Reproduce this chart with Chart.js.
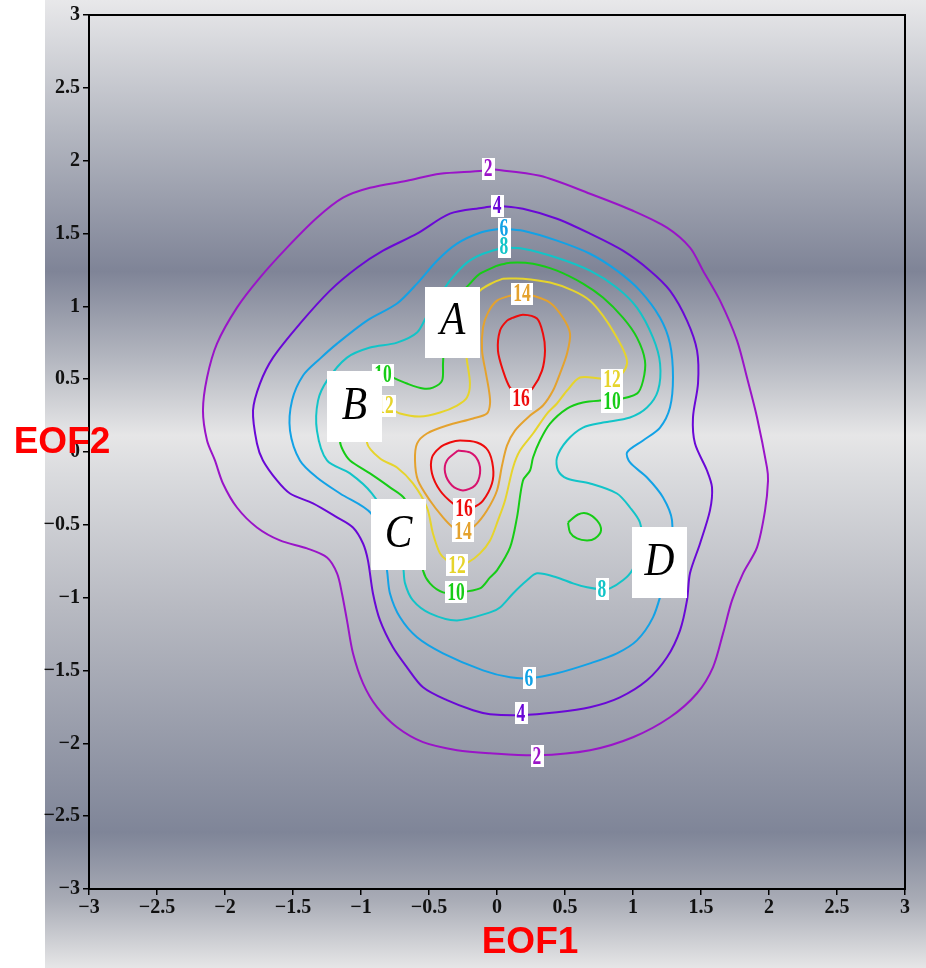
<!DOCTYPE html>
<html>
<head>
<meta charset="utf-8">
<script src="https://cdn.jsdelivr.net/npm/chart.js@4.4.1/dist/chart.umd.min.js"></script>
<style>
  html, body { margin: 0; padding: 0; background: #fff; }
  canvas { display: block; }
</style>
</head>
<body>
<canvas id="c" width="926" height="968"></canvas>
<script>
// Density contours in the (EOF1, EOF2) plane. Each list is one closed contour, [EOF1, EOF2] pairs.
const contourLevels = [2, 4, 6, 8, 10, 12, 14, 16, 18];

const level2 = [[-0.066,1.944],[0.316,1.896],[0.684,1.773],[1.0,1.656],[1.25,1.540],[1.419,1.403],[1.515,1.245],[1.640,1.039],[1.765,0.765],[1.838,0.511],[1.912,0.237],[1.985,-0.106],[1.993,-0.195],[1.971,-0.401],[1.912,-0.655],[1.809,-0.833],[1.728,-1.019],[1.662,-1.245],[1.588,-1.478],[1.471,-1.656],[1.272,-1.821],[1.0,-1.958],[0.684,-2.047],[0.294,-2.082],[-0.051,-2.068],[-0.294,-2.047],[-0.544,-1.992],[-0.735,-1.890],[-0.882,-1.752],[-0.985,-1.588],[-1.059,-1.382],[-1.103,-1.156],[-1.140,-0.971],[-1.176,-0.833],[-1.250,-0.724],[-1.397,-0.662],[-1.596,-0.607],[-1.765,-0.518],[-1.912,-0.381],[-2.015,-0.216],[-2.074,-0.058],[-2.132,0.079],[-2.162,0.285],[-2.132,0.511],[-2.059,0.744],[-1.912,0.991],[-1.743,1.197],[-1.544,1.403],[-1.324,1.608],[-1.132,1.746],[-0.934,1.814],[-0.662,1.862],[-0.419,1.910],[-0.103,1.931]];

const level4 = [[0,1.691],[0.191,1.670],[0.441,1.601],[0.684,1.499],[0.926,1.382],[1.125,1.245],[1.272,1.108],[1.397,0.902],[1.471,0.696],[1.478,0.470],[1.441,0.237],[1.456,0.058],[1.544,-0.127],[1.581,-0.243],[1.566,-0.401],[1.493,-0.628],[1.419,-0.833],[1.397,-1.019],[1.346,-1.224],[1.25,-1.409],[1.103,-1.567],[0.904,-1.684],[0.684,-1.752],[0.441,-1.787],[0.169,-1.807],[-0.051,-1.800],[-0.176,-1.773],[-0.368,-1.704],[-0.544,-1.615],[-0.662,-1.478],[-0.765,-1.341],[-0.860,-1.156],[-0.912,-0.971],[-0.949,-0.744],[-0.985,-0.628],[-1.059,-0.518],[-1.176,-0.449],[-1.353,-0.353],[-1.522,-0.285],[-1.618,-0.195],[-1.721,-0.058],[-1.765,0.058],[-1.794,0.285],[-1.743,0.470],[-1.647,0.648],[-1.449,0.881],[-1.228,1.108],[-1.029,1.265],[-0.838,1.382],[-0.588,1.499],[-0.346,1.636],[-0.103,1.677]];

const level6 = [[0.022,1.533],[0.191,1.519],[0.441,1.451],[0.684,1.361],[0.882,1.245],[1.051,1.108],[1.199,0.922],[1.272,0.744],[1.294,0.511],[1.272,0.305],[1.199,0.168],[1.074,0.079],[0.956,-0.003],[0.978,-0.072],[1.103,-0.175],[1.221,-0.312],[1.287,-0.470],[1.272,-0.744],[1.213,-0.950],[1.147,-1.135],[1.029,-1.293],[0.882,-1.382],[0.684,-1.451],[0.441,-1.519],[0.243,-1.553],[0.096,-1.547],[-0.103,-1.499],[-0.397,-1.382],[-0.588,-1.272],[-0.713,-1.135],[-0.787,-0.971],[-0.809,-0.813],[-0.846,-0.641],[-0.926,-0.422],[-1.154,-0.285],[-1.324,-0.175],[-1.449,-0.058],[-1.522,0.147],[-1.507,0.353],[-1.426,0.525],[-1.301,0.641],[-1.176,0.744],[-0.956,0.902],[-0.735,1.019],[-0.588,1.156],[-0.441,1.313],[-0.294,1.430],[-0.125,1.505]];

const level8 = [[0.044,1.403],[0.191,1.396],[0.441,1.334],[0.684,1.245],[0.882,1.128],[1.029,0.991],[1.147,0.785],[1.199,0.607],[1.184,0.422],[1.103,0.305],[0.978,0.237],[0.779,0.202],[0.632,0.168],[0.515,0.079],[0.441,-0.038],[0.449,-0.127],[0.515,-0.182],[0.684,-0.216],[0.882,-0.285],[0.978,-0.381],[1.051,-0.484],[1.066,-0.641],[0.993,-0.813],[0.926,-0.881],[0.831,-0.936],[0.772,-0.943],[0.662,-0.929],[0.559,-0.902],[0.441,-0.861],[0.294,-0.833],[0.221,-0.881],[0.118,-0.971],[0.022,-1.067],[-0.051,-1.101],[-0.294,-1.156],[-0.493,-1.108],[-0.618,-1.019],[-0.676,-0.902],[-0.691,-0.778],[-0.750,-0.538],[-0.919,-0.285],[-1.081,-0.147],[-1.25,-0.058],[-1.324,0.147],[-1.316,0.353],[-1.25,0.490],[-1.103,0.648],[-0.934,0.717],[-0.735,0.751],[-0.588,0.820],[-0.515,0.936],[-0.419,1.073],[-0.346,1.176],[-0.221,1.300],[-0.103,1.361]];

const level10 = [[0,1.279],[0.096,1.300],[0.265,1.293],[0.441,1.245],[0.632,1.156],[0.779,1.060],[0.926,0.922],[1.029,0.785],[1.088,0.628],[1.074,0.490],[1.029,0.401],[0.846,0.353],[0.757,0.353],[0.632,0.340],[0.515,0.298],[0.390,0.195],[0.316,0.079],[0.265,-0.038],[0.243,-0.127],[0.191,-0.195],[0.147,-0.449],[0.096,-0.655],[0,-0.813],[-0.051,-0.861],[-0.125,-0.936],[-0.294,-0.964],[-0.397,-0.964],[-0.493,-0.902],[-0.544,-0.813],[-0.581,-0.607],[-0.676,-0.326],[-0.787,-0.243],[-0.934,-0.147],[-1.081,-0.058],[-1.132,0.010],[-1.154,0.079],[-1.118,0.216],[-1.022,0.374],[-0.919,0.490],[-0.809,0.532],[-0.765,0.511],[-0.662,0.470],[-0.544,0.436],[-0.471,0.442],[-0.404,0.490],[-0.397,0.607],[-0.382,0.833],[-0.309,1.039],[-0.199,1.156],[-0.125,1.224]];

const level10Small = [[0.522,-0.484],[0.596,-0.429],[0.662,-0.422],[0.735,-0.470],[0.765,-0.538],[0.721,-0.593],[0.662,-0.607],[0.588,-0.593],[0.537,-0.552]];

const level12 = [[0.044,1.190],[0.191,1.190],[0.390,1.163],[0.559,1.108],[0.684,1.039],[0.779,0.936],[0.882,0.785],[0.941,0.676],[0.956,0.607],[0.919,0.538],[0.846,0.497],[0.757,0.504],[0.610,0.511],[0.515,0.422],[0.441,0.333],[0.368,0.264],[0.265,0.127],[0.169,0.010],[0.118,-0.106],[0.059,-0.333],[0.007,-0.470],[-0.051,-0.607],[-0.125,-0.696],[-0.213,-0.758],[-0.294,-0.778],[-0.368,-0.744],[-0.419,-0.696],[-0.471,-0.559],[-0.515,-0.381],[-0.618,-0.216],[-0.735,-0.106],[-0.860,-0.045],[-0.956,0.065],[-0.897,0.195],[-0.824,0.312],[-0.713,0.264],[-0.566,0.243],[-0.419,0.271],[-0.294,0.319],[-0.221,0.374],[-0.199,0.470],[-0.221,0.628],[-0.235,0.765],[-0.184,1.005],[-0.125,1.108],[-0.029,1.163]];

const level14 = [[0.184,1.087],[0.265,1.073],[0.390,1.025],[0.485,0.922],[0.537,0.813],[0.515,0.676],[0.463,0.538],[0.412,0.422],[0.338,0.319],[0.243,0.250],[0.132,0.147],[0.074,0.045],[0.037,-0.093],[0,-0.264],[-0.074,-0.401],[-0.162,-0.504],[-0.25,-0.552],[-0.324,-0.518],[-0.397,-0.449],[-0.493,-0.333],[-0.581,-0.195],[-0.603,-0.058],[-0.588,0.058],[-0.515,0.127],[-0.368,0.182],[-0.176,0.230],[-0.074,0.264],[-0.051,0.333],[-0.059,0.422],[-0.081,0.538],[-0.110,0.696],[-0.103,0.854],[-0.066,0.957],[0,1.039],[0.096,1.073]];

const level16Upper = [[0.118,0.922],[0.191,0.943],[0.294,0.916],[0.338,0.813],[0.353,0.696],[0.331,0.559],[0.265,0.442],[0.184,0.374],[0.096,0.442],[0.044,0.559],[0.007,0.696],[0.022,0.833],[0.074,0.902]];

const level16Lower = [[-0.243,-0.394],[-0.324,-0.353],[-0.419,-0.264],[-0.478,-0.147],[-0.478,-0.038],[-0.419,0.031],[-0.346,0.065],[-0.272,0.079],[-0.147,0.065],[-0.066,0.010],[-0.029,-0.106],[-0.037,-0.216],[-0.103,-0.333],[-0.176,-0.381]];

const level18 = [[-0.287,0.010],[-0.199,-0.003],[-0.140,-0.058],[-0.125,-0.147],[-0.162,-0.230],[-0.25,-0.264],[-0.331,-0.230],[-0.382,-0.141],[-0.368,-0.058]];

// Which level each contour list belongs to
const contourLists = [level2, level4, level6, level8, level10, level10Small, level12, level14, level16Upper, level16Lower, level18];
const contourListLevel = [2, 4, 6, 8, 10, 10, 12, 14, 16, 16, 18];

// In-line contour labels: value and position [EOF1, EOF2]
const labelValues = [2, 4, 6, 8, 14, 16, 12, 10, 10, 12, 16, 14, 12, 10, 8, 6, 4, 2];
const labelEOF1 = [-0.066, 0.0, 0.051, 0.051, 0.184, 0.176, 0.846, 0.846, -0.838, -0.824, -0.243, -0.25, -0.294, -0.301, 0.772, 0.235, 0.176, 0.294];
const labelEOF2 = [1.944, 1.691, 1.533, 1.409, 1.087, 0.367, 0.497, 0.346, 0.532, 0.319, -0.388, -0.545, -0.778, -0.964, -0.943, -1.553, -1.793, -2.088];

// Regime markers
const regimeNames = ['A', 'B', 'C', 'D'];
const regimeEOF1 = [-0.327, -1.048, -0.724, 1.195];
const regimeEOF2 = [0.892, 0.309, -0.566, -0.761];

// Axis
const axisMin = -3, axisMax = 3, axisStep = 0.5;
const xTitle = 'EOF1', yTitle = 'EOF2';

const levelColors = {
  2: '#9a14c8', 4: '#6a08d6', 6: '#12a2e6', 8: '#12c4c8', 10: '#16cc16',
  12: '#e6d42c', 14: '#e4a22e', 16: '#ee0c0c', 18: '#d8126e'
};

const datasets = contourLists.map((pts, i) => {
  const closed = pts.concat([pts[0]]);
  return {
    label: 'level ' + contourListLevel[i],
    data: closed.map(p => ({ x: p[0], y: p[1] })),
    showLine: true,
    borderColor: levelColors[contourListLevel[i]],
    borderWidth: 2,
    pointRadius: 0,
    pointHoverRadius: 0,
    tension: 0.3,
    fill: false
  };
});

const backdrop = {
  id: 'backdrop',
  beforeDraw(chart) {
    const { ctx, width, height } = chart;
    ctx.save();
    ctx.fillStyle = '#ffffff';
    ctx.fillRect(0, 0, width, height);
    const g = ctx.createLinearGradient(0, 0, 0, height);
    g.addColorStop(0.00, '#e8e8ea');
    g.addColorStop(0.13, '#b6b9c2');
    g.addColorStop(0.28, '#7f8497');
    g.addColorStop(0.37, '#b3b6bf');
    g.addColorStop(0.45, '#e6e6e7');
    g.addColorStop(0.49, '#dadbde');
    g.addColorStop(0.63, '#b7b9c1');
    g.addColorStop(0.86, '#7f8598');
    g.addColorStop(0.93, '#a9acb6');
    g.addColorStop(1.00, '#e6e6e7');
    ctx.fillStyle = g;
    ctx.fillRect(45, 0, width - 45, height);
    ctx.restore();
  }
};

const overlays = {
  id: 'overlays',
  afterDatasetsDraw(chart) {
    const { ctx, scales: { x, y } } = chart;
    ctx.save();
    // contour value labels
    const sx = 0.7;
    ctx.font = 'bold 25px "Liberation Serif", serif';
    ctx.textBaseline = 'middle';
    ctx.textAlign = 'center';
    labelValues.forEach((v, i) => {
      const px = x.getPixelForValue(labelEOF1[i]);
      const py = y.getPixelForValue(labelEOF2[i]);
      const t = String(v);
      const w = ctx.measureText(t).width * sx + 4;
      const h = 22;
      ctx.fillStyle = '#ffffff';
      ctx.fillRect(Math.round(px - w / 2), Math.round(py - h / 2), Math.round(w), h);
      ctx.save();
      ctx.translate(px, py + 1);
      ctx.scale(sx, 1);
      ctx.fillStyle = levelColors[v];
      ctx.fillText(t, 0, 0);
      ctx.restore();
    });
    // regime boxes
    regimeNames.forEach((n, i) => {
      const px = x.getPixelForValue(regimeEOF1[i]);
      const py = y.getPixelForValue(regimeEOF2[i]);
      const w = 55, h = 71;
      ctx.fillStyle = '#ffffff';
      ctx.fillRect(Math.round(px - w / 2), Math.round(py - h / 2), w, h);
      ctx.save();
      ctx.translate(px, py);
      ctx.scale(0.9, 1);
      ctx.fillStyle = '#000000';
      ctx.font = 'italic 46px "Liberation Serif", serif';
      ctx.textAlign = 'center';
      ctx.textBaseline = 'middle';
      ctx.fillText(n, 0, 0);
      ctx.restore();
    });
    ctx.restore();
  },
  afterDraw(chart) {
    const { ctx, chartArea: a } = chart;
    ctx.save();
    ctx.strokeStyle = '#000';
    ctx.lineWidth = 2;
    ctx.strokeRect(a.left, a.top, a.right - a.left, a.bottom - a.top);
    ctx.fillStyle = '#ff0000';
    ctx.font = 'bold 37px "Liberation Sans", Arial, sans-serif';
    ctx.textAlign = 'center';
    ctx.textBaseline = 'middle';
    ctx.fillText(xTitle, (a.left + a.right) / 2 + 33, 943);
    ctx.fillText(yTitle, 62, 443);
    ctx.restore();
  }
};

const tickFormat = v => String(Number(v.toFixed(1))).replace('-', '\u2212');

const axisCommon = {
  type: 'linear',
  min: axisMin,
  max: axisMax,
  ticks: {
    stepSize: axisStep,
    color: '#111',
    font: { family: '"Liberation Serif", serif', size: 20, weight: 'bold' },
    callback: tickFormat,
    autoSkip: false,
    maxRotation: 0
  },
  grid: { drawOnChartArea: false, drawTicks: true, tickLength: 6, color: '#000', lineWidth: 1.5 },
  border: { color: '#000', width: 2 }
};

new Chart(document.getElementById('c'), {
  type: 'scatter',
  data: { datasets },
  options: {
    responsive: false,
    devicePixelRatio: 1,
    animation: false,
    layout: { padding: { top: 14, right: 21, left: 0, bottom: 0 } },
    plugins: { legend: { display: false }, tooltip: { enabled: false } },
    scales: {
      x: Object.assign({}, axisCommon, {
        position: 'bottom',
        ticks: Object.assign({}, axisCommon.ticks, { padding: 1 }),
        afterFit: s => { s.height = 79; }
      }),
      y: Object.assign({}, axisCommon, {
        position: 'left',
        ticks: Object.assign({}, axisCommon.ticks, { padding: 3 }),
        afterFit: s => { s.width = 89; }
      })
    }
  },
  plugins: [backdrop, overlays]
});
</script>
</body>
</html>
